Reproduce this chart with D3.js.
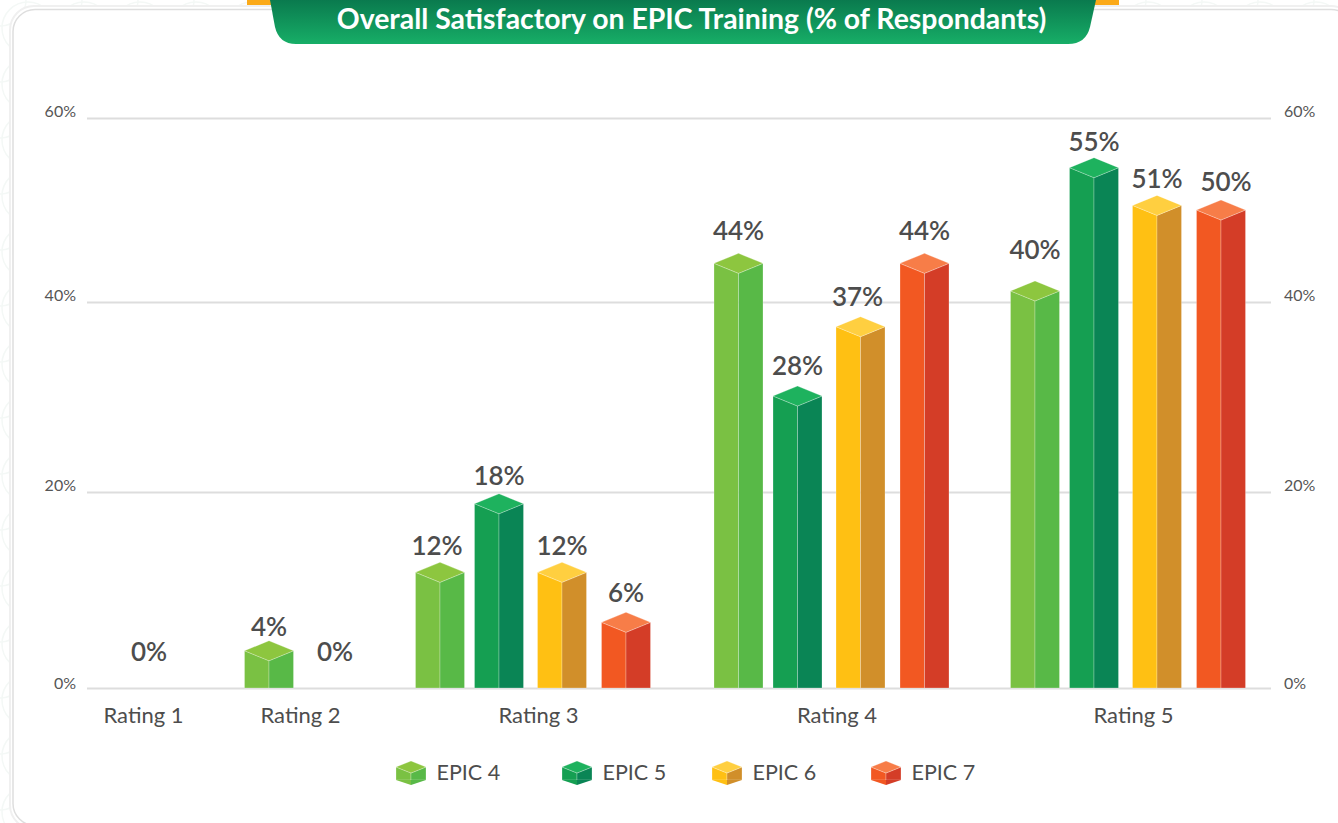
<!DOCTYPE html>
<html>
<head>
<meta charset="utf-8">
<script src="https://cdn.jsdelivr.net/npm/d3@7"></script>
<style>
html, body { margin: 0; padding: 0; background: #fff; overflow: hidden; }
svg { display: block; }
text { font-family: Lato, "Open Sans", sans-serif; fill: #4d4d4d; }
</style>
</head>
<body>
<div id="chart"></div>
<script>
var titleText = "Overall Satisfactory on EPIC Training (% of Respondants)";
var categories = ["Rating 1", "Rating 2", "Rating 3", "Rating 4", "Rating 5"];
var seriesNames = ["EPIC 4", "EPIC 5", "EPIC 6", "EPIC 7"];
var yTicks = [0, 20, 40, 60];

// bar heights as drawn (the picture's bars differ a little from their printed labels)
var epic4Heights = [0, 3.8, 11.8, 44.2, 41.2];
var epic5Heights = [null, 0, 18.8, 30.1, 54.6];
var epic6Heights = [null, null, 11.8, 37.4, 50.5];
var epic7Heights = [null, null, 6.7, 44.2, 50];

// printed labels
var epic4Labels = [0, 4, 12, 44, 40];
var epic5Labels = [null, 0, 18, 28, 55];
var epic6Labels = [null, null, 12, 37, 51];
var epic7Labels = [null, null, 6, 44, 50];

var seriesHeights = [epic4Heights, epic5Heights, epic6Heights, epic7Heights];
var seriesLabels = [epic4Labels, epic5Labels, epic6Labels, epic7Labels];

var seriesColors = [
    { left: "#7ac143", right: "#58b947", top: "#8dc63f" },
    { left: "#159f52", right: "#0a8555", top: "#1eb25e" },
    { left: "#ffc013", right: "#d18f2a", top: "#ffcf40" },
    { left: "#f25822", right: "#d43d27", top: "#f77d48" }
];

var width = 1338, height = 823;

var svg = d3.select("#chart")
    .append("svg")
    .attr("width", width)
    .attr("height", height);

var defs = svg.append("defs");

//Faint page pattern
var pattern = defs.append("pattern")
    .attr("id", "rings")
    .attr("width", 56)
    .attr("height", 56)
    .attr("patternUnits", "userSpaceOnUse");
pattern.append("circle").attr("cx", 28).attr("cy", 28).attr("r", 26);
pattern.append("circle").attr("cx", 0).attr("cy", 0).attr("r", 26);
pattern.append("circle").attr("cx", 56).attr("cy", 56).attr("r", 26);
pattern.selectAll("circle").attr("fill", "none").attr("stroke", "#f4f8f6").attr("stroke-width", 1.5);

var grad = defs.append("linearGradient")
    .attr("id", "titleFill")
    .attr("x1", 0).attr("y1", 0).attr("x2", 0).attr("y2", 1);
grad.append("stop").attr("offset", "0%").attr("stop-color", "#0a7a4e");
grad.append("stop").attr("offset", "100%").attr("stop-color", "#17ae67");

svg.append("rect").attr("width", width).attr("height", height).attr("fill", "url(#rings)");

//Panel
svg.append("rect")
    .attr("x", 10).attr("y", 6)
    .attr("width", 1345).attr("height", 823)
    .attr("rx", 24)
    .attr("fill", "#fff")
    .attr("stroke", "#f0f0f0")
    .attr("stroke-width", 2);
svg.append("rect")
    .attr("x", 13).attr("y", 9.5)
    .attr("width", 1340).attr("height", 816)
    .attr("rx", 22)
    .attr("fill", "#fff")
    .attr("stroke", "#dedede")
    .attr("stroke-width", 1.5);

//Title tab
svg.append("rect").attr("x", 247).attr("y", -4).attr("width", 30).attr("height", 9).attr("fill", "#fbaa19");
svg.append("rect").attr("x", 1090).attr("y", -4).attr("width", 29).attr("height", 9).attr("fill", "#fbaa19");
svg.append("path")
    .attr("d", "M270,0 L1096,0 L1090,27 Q1086,44 1068,44 L296,44 Q279,44 275,27 Z")
    .attr("fill", "url(#titleFill)");
svg.append("text")
    .attr("x", 691.5)
    .attr("y", 29)
    .attr("text-anchor", "middle")
    .style("font-size", "28.4px")
    .style("font-weight", 700)
    .style("fill", "#fff")
    .text(titleText);

//Y scale: the picture's gridlines are not quite evenly spaced
var y = d3.scaleLinear()
    .domain(yTicks)
    .range([688, 492, 302, 118]);

var axisFormat = function (d) { return d + "%"; };

var leftAxis = svg.append("g")
    .attr("transform", "translate(87,0)")
    .call(d3.axisLeft(y).tickValues(yTicks).tickFormat(axisFormat).tickSize(-1184).tickPadding(11));
var rightAxis = svg.append("g")
    .attr("transform", "translate(1271,0)")
    .call(d3.axisRight(y).tickValues(yTicks).tickFormat(axisFormat).tickSize(0).tickPadding(13));

svg.selectAll(".domain").remove();
leftAxis.selectAll("line").attr("stroke", "#dddddd").attr("stroke-width", 2);
svg.selectAll(".tick text")
    .attr("dy", function (d) { return d === 0 ? "0px" : "-2px"; })
    .style("font-size", "16px")
    .style("font-family", "Lato, sans-serif")
    .style("fill", "#565656");

//X scale: groups are only as wide as the bars they hold
var x = d3.scaleOrdinal()
    .domain(categories)
    .range([143, 300, 538, 836.5, 1133]);

var xAxis = svg.append("g")
    .attr("transform", "translate(0,688)")
    .call(d3.axisBottom(x).tickSize(0).tickPadding(19));
xAxis.select(".domain").remove();
xAxis.selectAll("text")
    .attr("dy", "0.71em")
    .style("font-size", "22px")
    .style("font-family", "Lato, sans-serif")
    .style("fill", "#4d4d4d");

//Offset of each bar from its group's centre, by number of bars in the group
var groupOffsets = {
    1: [6],
    2: [-31, 35],
    4: [-98, -39, 24, 88]
};
var halfBar = 24.5, capDrop = 10;

//Hand placement of value labels, as "series|category": [dx, dy]
var labelNudge = {
    "0|1": [0, 2], "0|2": [-3, 0], "1|2": [0, -2], "3|2": [0, -3],
    "0|3": [0, -6], "1|3": [0, -4], "2|3": [-3, -4], "3|3": [0, -6],
    "0|4": [0, -15], "3|4": [5, -2]
};

var bars = [];
categories.forEach(function (cat, c) {
    var present = d3.range(seriesNames.length).filter(function (s) { return seriesLabels[s][c] !== null; });
    present.forEach(function (s, i) {
        bars.push({
            cat: cat,
            series: s,
            height: seriesHeights[s][c],
            label: seriesLabels[s][c],
            cx: x(cat) + groupOffsets[present.length][i],
            nudge: labelNudge[s + "|" + c] || [0, 0]
        });
    });
});

function faces(cx, top, base, w, drop) {
    return {
        left: [[cx - w, top], [cx, top + drop], [cx, base], [cx - w, base]],
        right: [[cx, top + drop], [cx + w, top], [cx + w, base], [cx, base]],
        top: [[cx - w, top], [cx, top - drop], [cx + w, top], [cx, top + drop]]
    };
}

function drawFaces(g, f, colors) {
    ["left", "right", "top"].forEach(function (k) {
        g.append("polygon")
            .attr("points", f[k].join(" "))
            .attr("fill", colors[k])
            .attr("stroke", "#fff")
            .attr("stroke-opacity", 0.25)
            .attr("stroke-width", 1);
    });
}

//Bars
svg.selectAll("g.bar")
    .data(bars.filter(function (d) { return d.height > 0; }))
    .enter()
    .append("g")
    .attr("class", "bar")
    .each(function (d) {
        drawFaces(d3.select(this), faces(d.cx, y(d.height), y(0), halfBar, capDrop), seriesColors[d.series]);
    });

//Value labels
svg.selectAll("text.value")
    .data(bars)
    .enter()
    .append("text")
    .attr("class", "value")
    .attr("x", function (d) { return d.cx + d.nudge[0]; })
    .attr("y", function (d) {
        var base = d.height > 0 ? y(d.height) - capDrop - 16 : y(0) - 36;
        return base + 9 + d.nudge[1];
    })
    .attr("text-anchor", "middle")
    .style("font-size", "26px")
    .style("font-weight", 600)
    .text(function (d) { return d.label + "%"; });

//Legend
var legendCube = d3.scaleOrdinal().domain(seriesNames).range([411, 577, 727, 886]);

seriesNames.forEach(function (name, s) {
    var cx = legendCube(name);
    var g = svg.append("g");
    drawFaces(g, faces(cx, 767, 780, 15, 6), seriesColors[s]);
    g.append("polygon")
        .attr("points", [[cx - 15, 780], [cx, 780], [cx, 785]].join(" "))
        .attr("fill", seriesColors[s].left);
    g.append("polygon")
        .attr("points", [[cx + 15, 780], [cx, 780], [cx, 785]].join(" "))
        .attr("fill", seriesColors[s].right);
    svg.append("text")
        .attr("x", cx + 25.5)
        .attr("y", 780)
        .style("font-size", "21.5px")
        .text(name);
});
</script>
</body>
</html>
